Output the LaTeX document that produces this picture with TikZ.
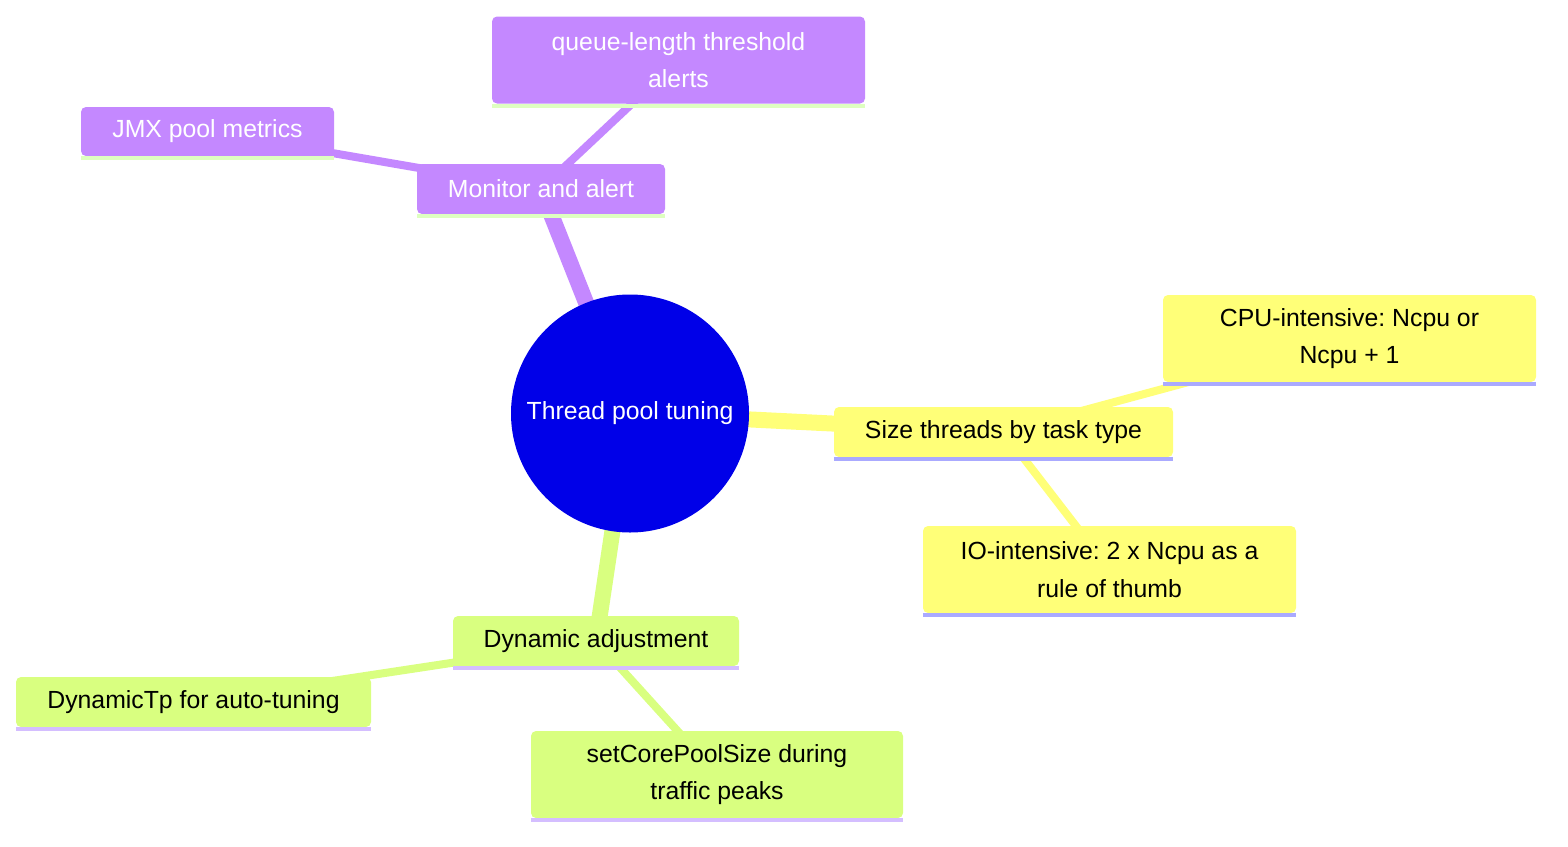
\documentclass[tikz,border=0pt]{standalone}
\usepackage{fontspec}
\setmainfont{Liberation Sans}
\frenchspacing
\usetikzlibrary{backgrounds}
\definecolor{c_root}{RGB}{0,0,232}
\definecolor{c_purple}{RGB}{196,136,255}
\definecolor{c_yellow}{RGB}{255,255,120}
\definecolor{c_green}{RGB}{217,255,128}
\definecolor{s_purple}{RGB}{222,255,192}
\definecolor{s_yellow}{RGB}{170,170,255}
\definecolor{s_green}{RGB}{212,190,255}
\tikzset{
	mapnode/.style = {
		align=center,
		inner sep=0pt,
		text centered,
		font=\fontsize{24.8}{37.5}\selectfont,
		rounded corners=5pt
	},
	node_root/.style = {
		mapnode,
		circle,
		white,
		fill=c_root,
		minimum size=238pt
	},
	node_p/.style = {
		mapnode,
		rectangle,
		white,
		fill=c_purple
	},
	node_y/.style = {
		mapnode,
		rectangle,
		black,
		fill=c_yellow
	},
	node_g/.style = {
		mapnode,
		rectangle,
		black,
		fill=c_green
	},
	edge_main/.style = {
		line width=16pt
	},
	edge_leaf/.style = {
		line width=8pt
	},
}

\begin{document}
\begin{tikzpicture}[x=1pt,y=-1pt]
\useasboundingbox (0,0) rectangle (1568,846);
\node [node_root] (root) at (630,413.5) {Thread pool tuning};
% monitoring branch
\node [node_p, minimum width=248pt, minimum height=50pt] (mon) at (541,189) {Monitor and alert};
\node [node_p, minimum width=373pt, minimum height=87pt] (queue) at (678.5,60) {queue-length threshold\\alerts};
\node [node_p, minimum width=253pt, minimum height=49pt] (jmx) at (207.5,131.5) {JMX pool metrics};
% sizing branch
\node [node_y, minimum width=339pt, minimum height=50pt] (size) at (1003.5,432) {Size threads by task type};
\node [node_y, minimum width=373pt, minimum height=87pt] (cpu) at (1349.5,338.5) {CPU-intensive: Ncpu or\\Ncpu + 1};
\node [node_y, minimum width=373pt, minimum height=87pt] (io) at (1109.5,569.5) {IO-intensive: 2 x Ncpu as a\\rule of thumb};
% dynamic branch
\node [node_g, minimum width=286pt, minimum height=50pt] (dyn) at (596,641) {Dynamic adjustment};
\node [node_g, minimum width=355pt, minimum height=50pt] (dtp) at (193.5,702) {DynamicTp for auto-tuning};
\node [node_g, minimum width=372pt, minimum height=87pt] (core) at (717,774.5) {setCorePoolSize during\\traffic peaks};

\foreach \n/\c in {mon/s_purple, queue/s_purple, jmx/s_purple, size/s_yellow, cpu/s_yellow, io/s_yellow, dyn/s_green, dtp/s_green, core/s_green}
	\fill [\c] (\n.south west) rectangle ([yshift=-4pt]\n.south east);

\begin{pgfonlayer}{background}
\draw [edge_main, c_purple] (root.center) -- (mon.center);
\draw [edge_main, c_yellow] (root.center) -- (size.center);
\draw [edge_main, c_green] (root.center) -- (dyn.center);
\foreach \a/\b/\c in {mon/queue/c_purple, mon/jmx/c_purple, size/cpu/c_yellow, size/io/c_yellow, dyn/dtp/c_green, dyn/core/c_green}
	\draw [edge_leaf, \c] (\a.center) -- (\b.center);
\end{pgfonlayer}
\end{tikzpicture}
\end{document}
